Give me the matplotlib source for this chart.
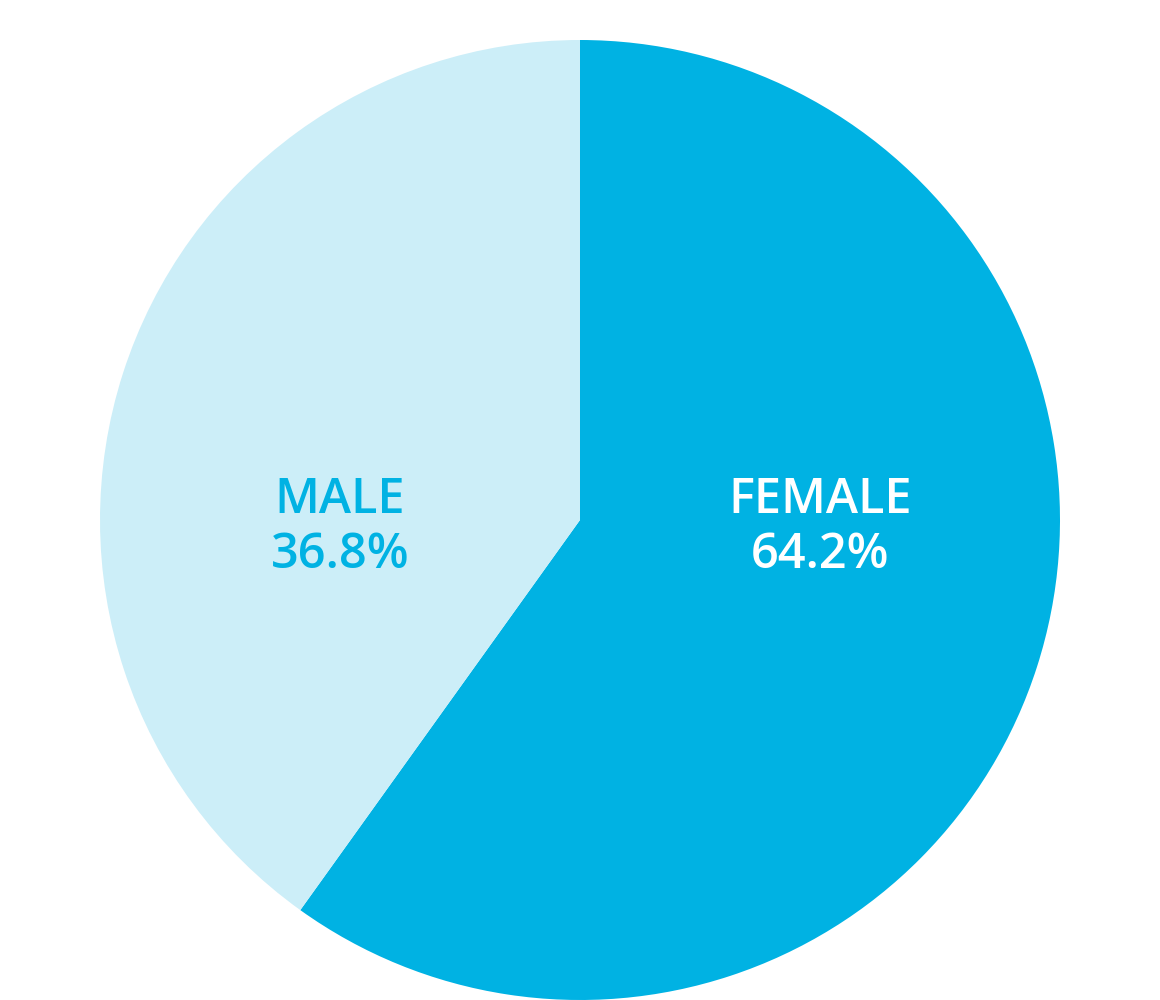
import matplotlib.pyplot as plt

# wedge sizes as drawn (the printed labels do not add up to 100)
groups = ["FEMALE", "MALE"]
shares = [59.9, 40.1]
label_values = ["64.2%", "36.8%"]
colors = ["#00B2E3", "#CCEEF8"]
text_colors = ["#FFFFFF", "#00B2E3"]
label_x = [0.5, -0.5]

plt.rcParams["font.family"] = ["Open Sans", "DejaVu Sans"]

fig = plt.figure(figsize=(11.6, 10), dpi=100)
ax = fig.add_axes([100 / 1160, 0, 960 / 1160, 0.96])

ax.pie(shares, colors=colors, startangle=90, counterclock=False, radius=1,
       wedgeprops={"linewidth": 0})

for name, val, x, c in zip(groups, label_values, label_x, text_colors):
    ax.text(x, 0.0146, name, color=c, fontsize=35, fontweight="semibold",
            ha="center", va="baseline")
    ax.text(x, -0.1, val, color=c, fontsize=35, fontweight="semibold",
            ha="center", va="baseline")

ax.set_xlim(-1, 1)
ax.set_ylim(-1, 1)
ax.set_aspect("equal")
ax.axis("off")

plt.savefig("out.png", dpi=100)
